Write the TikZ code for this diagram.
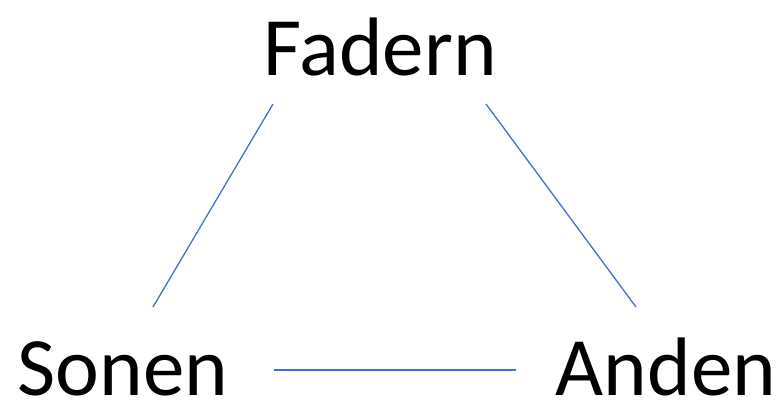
\documentclass[tikz,border=0pt]{standalone}
\usepackage{fontspec}
\setmainfont{Carlito}
\begin{document}
\begin{tikzpicture}[x=1pt,y=-1pt,
  lbl/.style={anchor=base,inner sep=0pt,font=\fontsize{83}{90}\selectfont},
  link/.style={draw={rgb,255:red,68;green,114;blue,196},line width=1.3pt}]
\useasboundingbox (0,0) rectangle (781,400);
\node[lbl] (fadern) at (380,75) {Fadern};
\node[lbl] (sonen) at (123,395) {Sonen};
\node[lbl] (anden) at (666,395) {Anden};
\coordinate (f1) at (273,104);
\coordinate (s1) at (153,307);
\coordinate (f2) at (486,104);
\coordinate (a1) at (636,307);
\coordinate (s2) at (274,370);
\coordinate (a2) at (516,370);
\draw[link] (f1) -- (s1);
\draw[link] (f2) -- (a1);
\draw[link] (s2) -- (a2);
\end{tikzpicture}
\end{document}
